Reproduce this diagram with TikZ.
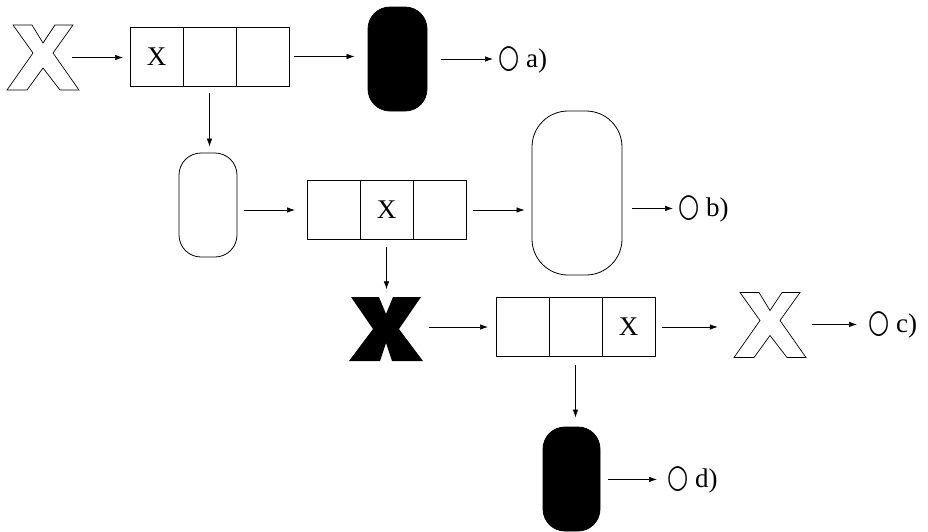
\documentclass[tikz,border=0pt]{standalone}
\usepackage{graphicx}
\usepackage{fontspec}
\setmainfont{Liberation Serif}
\newfontfamily\symfont{DejaVu Sans}
\usetikzlibrary{arrows.meta,positioning}
\newcommand{\ring}{{\symfont\scalebox{0.9}[1.2]{○}}}

\begin{document}
\begin{tikzpicture}[x=1pt,y=-1pt,
    cell/.style={draw,line width=0.8pt,outer sep=0pt,minimum width=53pt,minimum height=59pt,inner sep=0pt,font=\fontsize{27}{32}\selectfont},
    pill/.style={draw,line width=0.8pt,rounded corners=22pt,inner sep=0pt,minimum width=58pt,minimum height=104pt},
    xbox/.style={inner sep=0pt,minimum width=72pt,minimum height=65pt},
    arr/.style={-{Latex[length=8pt,width=5.5pt]},line width=0.7pt},
    lab/.style={anchor=base west,inner sep=0pt,font=\fontsize{27}{32}\selectfont},
    xout/.pic={\draw[line width=0.7pt] (-30,-32.5) -- (-11,-32.5) -- (0,-14.5) -- (12,-32.5) -- (30,-32.5) -- (10,-4.5) -- (36,32.5) -- (17,32.5) -- (0,10.5) -- (-16,32.5) -- (-36,32.5) -- (-10,-4.5) -- cycle;},
    xfill/.pic={\fill (-35,-32) -- (-7,-32) -- (0,-15) -- (7,-32) -- (35,-32) -- (13,0) -- (37,32) -- (6,32) -- (0,14) -- (-6,32) -- (-37,32) -- (-13,0) -- cycle;}]
    \useasboundingbox (0,0) rectangle (928,531);

    % First row
    \node[xbox] (xa) at (43,57.5) {};
    \pic at (xa.center) {xout};
    \node[cell] (r1a) at (156.5,56.5) {X};
    \node[cell,right=0pt of r1a] (r1b) {};
    \node[cell,right=0pt of r1b] (r1c) {};
    \node[pill,fill=black,minimum width=59pt] (p1) at (397.5,59) {};
    \node[lab] (la) at (498,67) {\ring\ a)};

    \draw[arr] ([xshift=-7pt]xa.east) -- ([xshift=-7pt]xa.east -| r1a.west);
    \draw[arr] ([xshift=5pt]r1c.east) -- ([xshift=-13pt]r1c.east -| p1.west);
    \draw[arr] ([xshift=14pt]p1.east) -- ([xshift=-5pt]p1.east -| la.west);

    % Second row
    \node[pill] (p2) at (208,205) {};
    \node[cell] (r2a) at (333.5,210) {};
    \node[cell,right=0pt of r2a] (r2b) {X};
    \node[cell,right=0pt of r2b] (r2c) {};
    \node[pill,rounded corners=36pt,minimum width=90pt,minimum height=164pt] (p3) at (577,193) {};
    \node[lab] (lb) at (678,216) {\ring\ b)};

    \draw[arr] ([yshift=-7pt]r1b.south) -- ([yshift=6pt]r1b.south |- p2.north);
    \draw[arr] ([xshift=7pt]p2.east |- r2a.west) -- ([xshift=-12pt]r2a.west);
    \draw[arr] ([xshift=7pt]r2c.east) -- ([xshift=-7pt]r2c.east -| p3.west);
    \draw[arr] ([xshift=10pt]p3.east |- lb.west) -- ([xshift=-5pt]lb.west);

    % Third row
    \node[xbox] (xb) at (386,329) {};
    \pic at (xb.center) {xfill};
    \node[cell] (r3a) at (522.5,327) {};
    \node[cell,right=0pt of r3a] (r3b) {};
    \node[cell,right=0pt of r3b] (r3c) {X};
    \node[xbox] (xc) at (770,325) {};
    \pic at (xc.center) {xout};
    \node[lab] (lc) at (868,332) {\ring\ c)};

    \draw[arr] ([yshift=-7pt]r2b.south) -- ([yshift=7pt]r2b.south |- xb.north);
    \draw[arr] ([xshift=7pt]xb.east |- r3a.west) -- ([xshift=-8pt]r3a.west);
    \draw[arr] ([xshift=7pt]r3c.east) -- ([xshift=-16pt]r3c.east -| xc.west);
    \draw[arr] ([xshift=6pt]xc.east |- lc.west) -- ([xshift=-11pt]lc.west);

    % Fourth row
    \node[pill,fill=black,minimum width=57pt] (p4) at (571.5,479) {};
    \node[lab] (ld) at (667,487) {\ring\ d)};

    \draw[arr] ([yshift=-8pt]r3b.south) -- ([yshift=9pt]r3b.south |- p4.north);
    \draw[arr] ([xshift=8pt]p4.east |- ld.west) -- ([xshift=-10pt]ld.west);
\end{tikzpicture}
\end{document}
